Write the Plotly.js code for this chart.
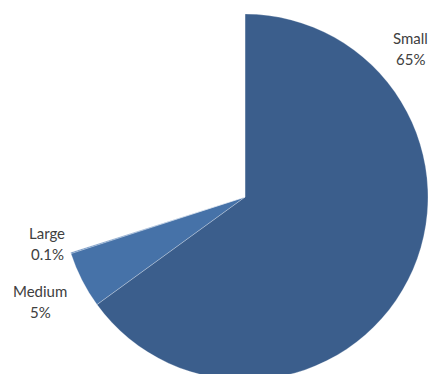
<!DOCTYPE html>
<html>
<head>
<meta charset="utf-8">
<script src="https://cdn.plot.ly/plotly-3.0.1.min.js"></script>
<style>
html, body { margin: 0; padding: 0; overflow: hidden; background: #ffffff; }
#chart { width: 433px; height: 400px; }
</style>
</head>
<body>
<div id="chart"></div>
<script>
// Data
var categories = ['Small', 'Medium', 'Large', ''];
var shares = [65, 5, 0.1, 29.9];          // last entry: the empty (unfilled) part of the pie
var shareLabels = ['65%', '5%', '0.1%', ''];
var sliceColors = ['#3b5e8c', '#4672a8', '#4a78b2', 'rgba(0,0,0,0)'];

// label positions (pixel centre x, name line y, percent line y) for the visible slices
var labelPos = [[410, 38, 59], [40, 291, 312], [47, 233, 254]];

var W = 433, H = 400, mL = 62, mR = 5, mT = 14, mB = 20;
var pw = W - mL - mR, ph = H - mT - mB;
var labelFont = { family: 'Lato, "Open Sans", sans-serif', size: 15, color: '#404040' };

var annotations = [];
for (var i = 0; i < 3; i++) {
  var lines = [categories[i], shareLabels[i]];
  for (var k = 0; k < 2; k++) {
    annotations.push({
      xref: 'paper', yref: 'paper',
      x: (labelPos[i][0] - mL) / pw,
      y: (H - mB - labelPos[i][k + 1]) / ph,
      xanchor: 'center', yanchor: 'middle',
      text: lines[k],
      showarrow: false,
      font: labelFont
    });
  }
}

var trace = {
  type: 'pie',
  labels: categories,
  values: shares,
  sort: false,
  direction: 'clockwise',
  rotation: 0,
  textinfo: 'none',
  hoverinfo: 'skip',
  marker: { colors: sliceColors, line: { color: 'rgba(255,255,255,0.5)', width: 0.5 } },
  domain: { x: [0, 1], y: [0, 1] },
  showlegend: false
};

Plotly.newPlot('chart', [trace], {
  width: W, height: H,
  margin: { l: mL, r: mR, t: mT, b: mB, pad: 0 },
  paper_bgcolor: '#ffffff',
  showlegend: false,
  annotations: annotations
}, { displayModeBar: false, staticPlot: true });
</script>
</body>
</html>
